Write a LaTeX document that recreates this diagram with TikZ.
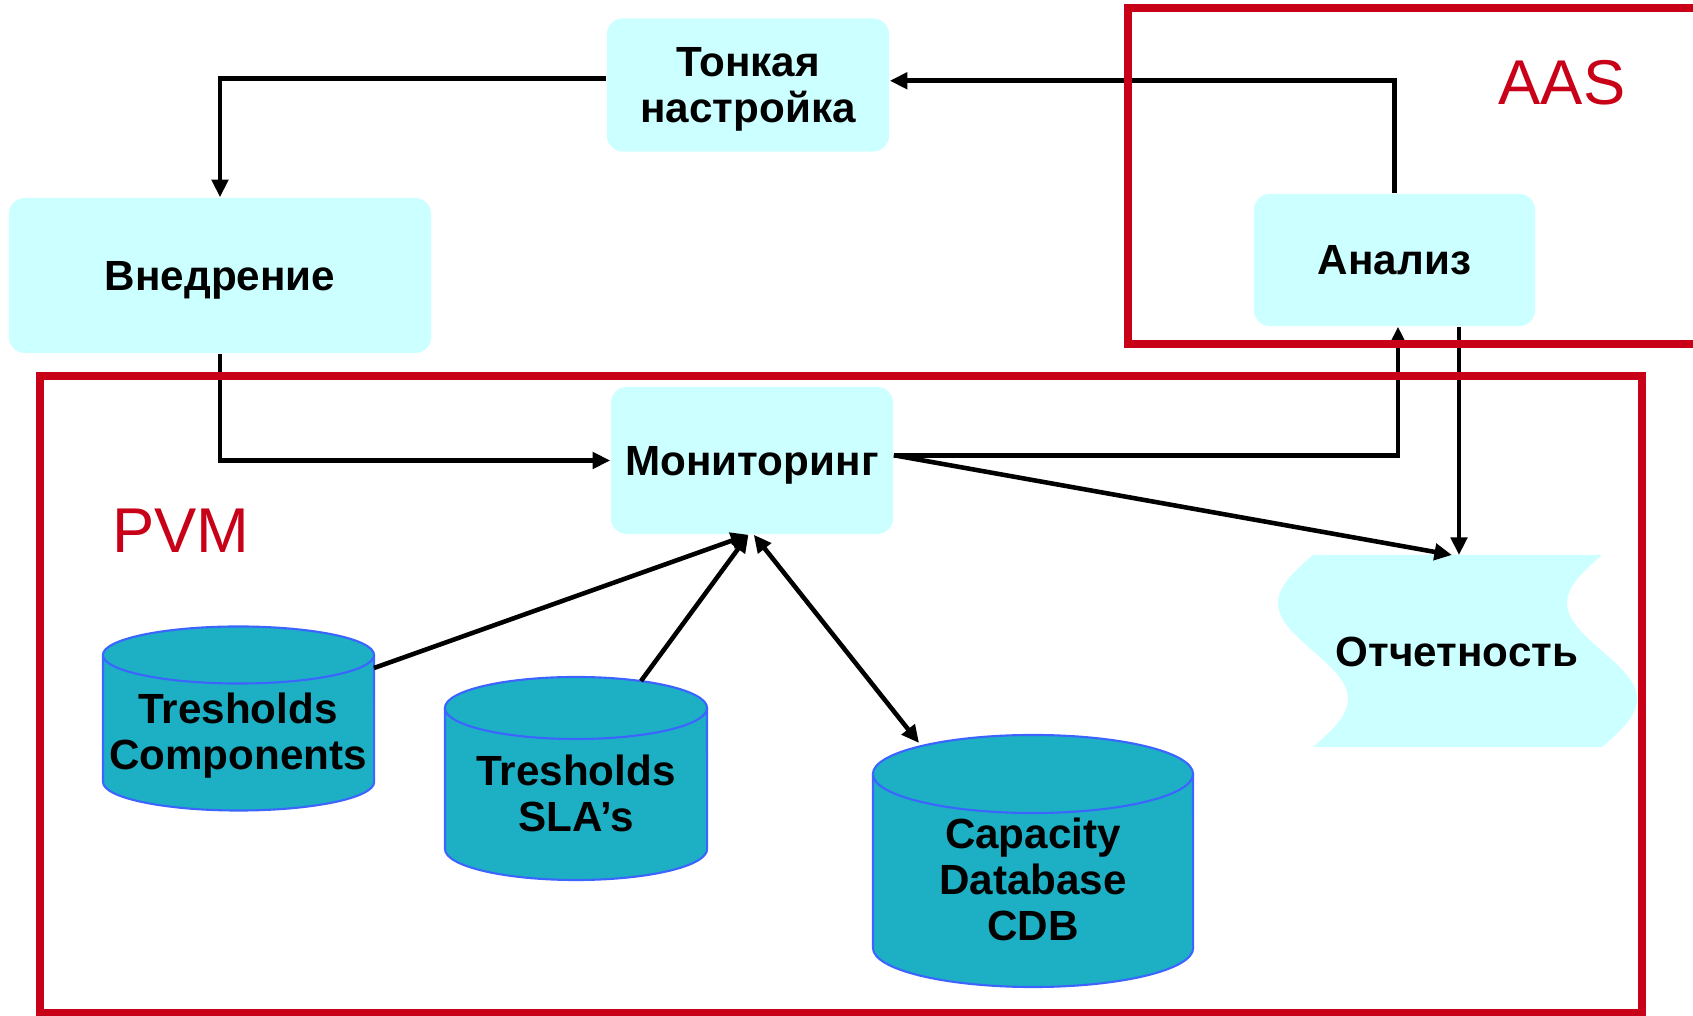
\documentclass[tikz,border=0pt]{standalone}
\usepackage{fontspec}
\setmainfont{Liberation Sans}
\usetikzlibrary{arrows.meta}
\definecolor{boxfill}{RGB}{204,255,255}
\definecolor{dbfill}{RGB}{29,176,196}
\definecolor{dbline}{RGB}{60,100,255}
\definecolor{framered}{RGB}{200,0,24}

% database cylinder: centre x, top-ellipse y, bottom-ellipse y, x radius (cm), y radius (cm)
\newcommand\dbcyl[5]{%
  \fill[dbfill] (#1-#4*100,#2) rectangle (#1+#4*100,#3);
  \fill[dbfill] (#1,#3) ellipse[x radius=#4cm, y radius=#5cm];
  \draw[dbline, line width=0.6pt] (#1-#4*100,#2) -- (#1-#4*100,#3)
     arc[start angle=180, end angle=360, x radius=#4cm, y radius=#5cm] -- (#1+#4*100,#2);
  \filldraw[fill=dbfill, draw=dbline, line width=0.6pt] (#1,#2) ellipse[x radius=#4cm, y radius=#5cm];
}

\begin{document}
\begin{tikzpicture}[x=0.01cm, y=-0.01cm,
  stage/.style={rectangle, rounded corners=0.16cm, fill=boxfill, minimum width=2.82cm,
    minimum height=1.33cm, font=\fontsize{12}{13}\selectfont\bfseries, align=center,
    inner sep=0pt, text depth=0pt},
  dbtext/.style={font=\fontsize{12}{13}\selectfont\bfseries, align=center, inner sep=0pt,
    text depth=0pt},
  flow/.style={draw=black, line width=1.3pt, -{Triangle[length=5pt,width=4.6pt]}},
  bothflow/.style={draw=black, line width=1.3pt,
    {Triangle[length=5pt,width=4.6pt]}-{Triangle[length=5pt,width=4.6pt]}},
  zone/.style={draw=framered, line width=2.1pt},
  zonename/.style={text=framered, font=\fontsize{18}{18}\selectfont, inner sep=0pt}]

\useasboundingbox (0,0) rectangle (1693,1016);

% report sheet with wavy sides
\fill[boxfill] plot[domain=555:747, samples=60] ({1313-35*sin((\x-555)*1.875)}, \x)
  -- plot[domain=747:555, samples=60] ({1602-35*sin((\x-555)*1.875)}, \x) -- cycle;

% databases
\dbcyl{238.5}{655}{782}{1.355}{0.285}
\dbcyl{576}{708}{849}{1.31}{0.31}
\dbcyl{1033}{774}{948}{1.6}{0.39}

% process stages
\node[stage] (ton) at (748,85) {Тонкая\\настройка};
\node[stage, minimum width=4.22cm, minimum height=1.55cm] (vn) at (220,275.5) {Внедрение};
\node[stage, minimum width=2.81cm, minimum height=1.32cm] (an) at (1394.5,260) {Анализ};
\node[stage, minimum height=1.47cm] (mon) at (752,460.5) {Мониторинг};

% labels of the stores
\node[dbtext] (tc) at (238,731) {Tresholds\\Components};
\node[dbtext] (ts) at (576,793) {Tresholds\\SLA’s};
\node[dbtext] (cdb) at (1033,879) {Capacity\\Database\\CDB};
\node[dbtext] (rep) at (1457,652) {Отчетность};

% connector ends on the stores and the report sheet
\coordinate (tc-out) at (374,668);
\coordinate (ts-out) at (641,681);
\coordinate (cdb-in) at (919,743);
\coordinate (rep-inA) at (1459,555);
\coordinate (rep-inB) at (1452,555);

% flows
\draw[flow] ([yshift=1.8pt]ton.west) -| (vn.north);
\draw[flow] (an.north) |- ([yshift=1.2pt]ton.east);
\draw[flow] (vn.south) |- (mon.west);
\draw[flow] ([yshift=1.5pt]mon.east) -| ([xshift=1pt]an.south);
\draw[flow] (an.south -| rep-inA) -- (rep-inA);
\draw[flow] ([yshift=1.5pt]mon.east) -- (rep-inB);
\draw[flow] (tc-out) -- ([xshift=-1pt]mon.south);
\draw[flow] (ts-out) -- ([xshift=-1pt]mon.south);
\draw[bothflow] ([xshift=0.5pt]mon.south) -- (cdb-in);

% zones
\draw[zone] (1720,8) -- (1128,8) -- (1128,344) -- (1720,344);
\draw[zone] (40,376) rectangle (1642,1013);
\node[zonename] (aas) at (1562,83) {AAS};
\node[zonename] (pvm) at (181,531) {PVM};

\end{tikzpicture}
\end{document}
